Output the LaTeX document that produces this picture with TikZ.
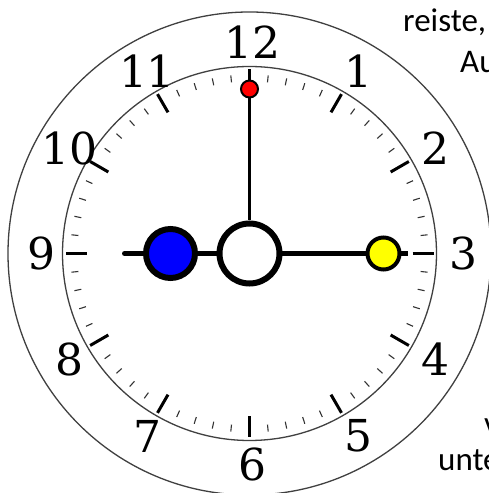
\documentclass[tikz,border=0pt]{standalone}
\usepackage{fontspec}
\usetikzlibrary{calc}
\newfontfamily\numfont{DejaVu Serif}
\newfontfamily\txtfont{Carlito}
\definecolor{pureblue}{RGB}{0,0,255}
\definecolor{pureyellow}{RGB}{255,255,0}
\definecolor{purered}{RGB}{255,0,0}
\begin{document}
\begin{tikzpicture}[x=1pt,y=1pt,
  ring/.style={draw=black!75, line width=1.3pt},
  majortick/.style={line width=3pt, black},
  minortick/.style={line width=1.1pt, black!80},
  num/.style={font=\numfont\fontsize{44}{50}\selectfont, inner sep=0pt, anchor=center},
  side/.style={font=\txtfont\fontsize{33}{38}\selectfont, inner sep=0pt, anchor=base west},
  hand/.style={line width=5pt, black},
  bob/.style={circle, draw=black, inner sep=0pt}]
\useasboundingbox (0,0) rectangle (489,493);
\fill[white] (0,0) rectangle (489,493);
\begin{scope}
\clip (0,0) rectangle (489,493);
\coordinate (c) at (249.5,239.5);
% side text
\node[side] (t1) at (403,461) {reiste,};
\node[side] (t2) at (460,420) {Au};
\node[side] (t3) at (484,58) {v};
\node[side] (t4) at (438,23) {unte};
% rings
\draw[ring] (c) circle (241.5);
\draw[ring] (c) circle (187);
% ticks
\foreach \i in {0,...,59}{
  \pgfmathtruncatemacro{\m}{mod(\i,5)}
  \ifnum\m=0
    \draw[majortick] ($(c)+(90-6*\i:163)$) -- ($(c)+(90-6*\i:184)$);
  \else
    \draw[minortick] ($(c)+(90-6*\i:172)$) -- ($(c)+(90-6*\i:179)$);
  \fi
}
% numbers
\foreach \h in {1,...,12}{
  \node[num] (n\h) at ($(c)+(90-30*\h:211)+(3,0)$) {\h};
}
% hands
\coordinate (lend) at ($(c)+(-125,0)$);
\coordinate (rend) at ($(c)+(158,0)$);
\node[bob, minimum size=17pt, line width=2pt, fill=purered] (red) at ($(c)+(0,164.5)$) {};
\draw[hand, line cap=round] (lend) -- (c);
\draw[hand] (c) -- (rend);
\node[bob, minimum size=49pt, line width=6pt, fill=pureblue] (blue) at ($(c)+(-79,0)$) {};
\node[bob, minimum size=32pt, line width=4pt, fill=pureyellow] (yellow) at ($(c)+(134,0)$) {};
\node[bob, minimum size=60pt, line width=6pt, fill=white] (hub) at (c) {};
\draw[line width=2.5pt] (hub.north) -- (red.south);
\end{scope}
\end{tikzpicture}
\end{document}
